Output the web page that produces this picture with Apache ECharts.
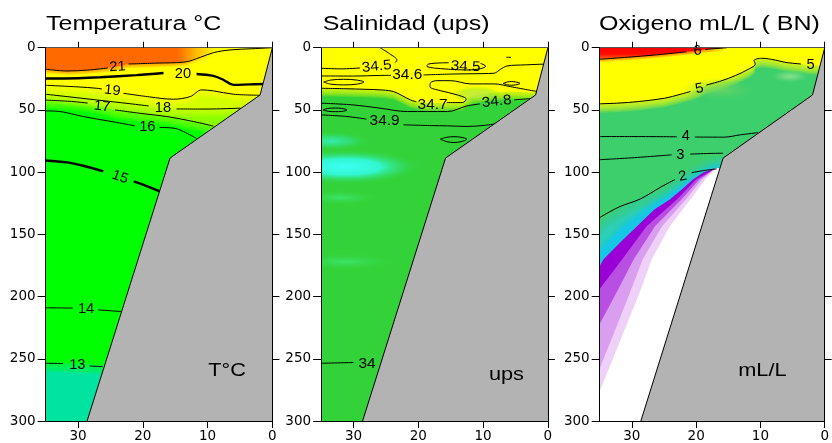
<!DOCTYPE html>
<html>
<head>
<meta charset="utf-8">
<script src="https://cdn.jsdelivr.net/npm/echarts@6/dist/echarts.min.js"></script>
<style>
  html, body { margin: 0; padding: 0; background: #fff; }
  #main { width: 832px; height: 443px; }
</style>
</head>
<body>
<div id="main"></div>
<script>
// ---- axes ----
const xTicks = [0, 10, 20, 30];
const yRightTicks = [50, 100, 150, 200, 250];
const titleText = ['Temperatura °C', 'Salinidad (ups)', 'Oxigeno mL/L ( BN)'];
const unitText = ['T°C', 'ups', 'mL/L'];
const unitPos = [[7, 259.8], [6.4, 263], [9.7, 259.8]];

// ---- shelf (distance km, depth m) ----
const bottomEdge = [[0, 0], [1.9, 38], [15.8, 88.7], [28.6, 300]];

// ---- temperature contours (segments broken at labels) ----
const t21 = [[[35, 17.3], [31.7, 18.7], [28.5, 18], [25.4, 16.3]], [[22.2, 13.1], [18, 12.4], [13.5, 11.5], [11.1, 7.7], [9.1, 4], [6.5, 1.8], [3, 0.8], [0, 0]]];
const t20 = [[[35, 24.8], [30, 24.5], [26.6, 23.8], [21, 22], [16.8, 20.3]], [[11.7, 21.1], [9.1, 22.7], [7.5, 26], [6, 29.9], [3.5, 29.5], [1.4, 29.2]]];
const t19 = [[[35, 30.2], [30, 31.5], [27.1, 32.6], [26.3, 33.2]], [[23, 36.6], [19, 39.5], [15.3, 41.4], [12.7, 39.3], [10.9, 33.9], [9.1, 34.7], [6, 37.4], [2, 38.2]]];
const t18 = [[[35, 37.4], [31.7, 39.3], [27.1, 42], [22, 45], [19.1, 46.8]], [[14.8, 49.2], [11, 49.3], [8.6, 49.2], [4.9, 48.6]]];
const t17 = [[[35, 42.1], [31, 43.2], [28.5, 44.5]], [[24.3, 50], [20, 53], [16.3, 55.3], [12.2, 59.3], [9.1, 63]]];
const t16 = [[[35, 50.8], [32.8, 51.3], [29.2, 55.3], [24, 60.1], [21.2, 62.8]], [[17.4, 64.1], [15.3, 64.6], [13.7, 67.4], [11.7, 73]]];
const t15 = [[[35, 90.6], [31.7, 92.2], [29.2, 94.9], [26.1, 99.4]], [[21.4, 107.4], [19.5, 111], [17.4, 115.5]]];
const t14 = [[[35, 209], [30.8, 209.3]], [[26.9, 210.7], [23.4, 212]]];
const t13 = [[[35, 253.6], [32.3, 253.8]], [[28.2, 255.8], [26.2, 256.3]]];
const tLabelPos = [[23.9, 15.5], [13.8, 21.4], [24.7, 34.5], [16.9, 48.6], [26.3, 47.3], [19.3, 63.6], [23.5, 104], [28.75, 210.3], [30.1, 255.3]];
const tLabelText = ['21', '20', '19', '18', '17', '16', '15', '14', '13'];
// temperature colour regions
const tOrange = [[35, 0], [35, 17.3], [31.7, 18.7], [28.5, 18], [25.4, 16.3], [23.9, 15], [22.2, 13.1], [18, 12.4], [13.5, 11.5], [11.1, 7.7], [9.1, 4], [6.5, 1.8], [3, 0.8], [0, 0]];
const tYellow = [[35, 0], [35, 30.2], [30, 31.5], [27.1, 32.6], [24.7, 34.6], [23, 36.6], [19, 39.5], [15.3, 41.4], [12.7, 39.3], [10.9, 33.9], [9.1, 34.7], [6, 37.4], [2, 38.2], [0, 38.2], [0, 0]];
const tLime = [[35, 0], [35, 37.4], [31.7, 39.3], [27.1, 42], [22, 45], [16.9, 48.4], [14.8, 49.2], [11, 49.3], [8.6, 49.2], [4.9, 48.6], [0, 48.6], [0, 0]];
const tChartreuse = [[35, 0], [35, 42.1], [31, 43.2], [28.5, 44.5], [26.3, 47.3], [24.3, 50], [20, 53], [16.3, 55.3], [12.2, 59.3], [9.1, 63], [0, 63], [0, 0]];
const tTeal = [[35, 260], [30, 261], [26, 262], [0, 262], [0, 300], [35, 300]];

// ---- salinity ----
const s345a = [[[35, 16.5], [32, 17], [29, 16.3]], [[23.6, 12], [23.3, 10], [24.4, 5], [25.9, 0]]];
const s345b = [[[17.5, 16.4], [18.7, 14.8], [18.4, 13.1], [16.4, 12.2], [15.3, 12.1]], [[10.4, 12.6], [9.6, 14.8], [10.4, 16.9], [12.5, 17.9], [15, 17.4], [17.5, 16.4]]];
const s346 = [[[35, 22.7], [30, 22.8], [26, 22.3], [24.2, 22.2]], [[19.2, 21.9], [15, 21.2], [10, 20.8], [8.3, 20.5], [7.3, 17.3], [6.3, 14.7], [3.5, 13.8], [0.6, 13.2]]];
const s347 = [[[35, 32.6], [31, 33], [28.4, 33.4], [25.5, 34], [23.8, 35.3], [22.5, 38.5], [21.2, 42], [20.3, 43.5]], [[15.6, 44.1], [13.2, 44.1], [12.6, 41.4], [14, 37.9], [16.6, 34.5], [18.2, 31.3], [18.1, 28.1], [17.1, 26.5], [15, 26.5], [11.9, 29.1], [8.3, 29.1], [5.8, 31.3], [1.6, 35.3]]];
const s348 = [[[35, 44.6], [30, 46], [25.9, 48.6], [21.7, 51.3], [15.5, 51.3], [12.5, 46.8], [10.5, 45.2]], [[5.2, 41.9], [3.2, 41.1], [2.6, 40.9]]];
const s349 = [[[35, 54], [31, 55.3], [28, 57.4]], [[22.3, 62], [18, 62.6], [15.5, 62.8], [12.5, 63.3], [10, 62.5], [8.2, 61.3]]];
const s340 = [[[35, 253.6], [30, 253]]];
const sSmall = [
  [[6.4, 7.7], [5.7, 7.7]],
  [[34.6, 27.6], [33.5, 26], [31.5, 25.4], [29.5, 26], [28.4, 27.6], [29.5, 29.3], [31.5, 29.9], [33.5, 29.3], [34.6, 27.6]],
  [[6.9, 28.7], [6.2, 27.5], [5.6, 27.2], [5, 27.5], [4.3, 28.7], [5, 29.9], [5.6, 30.2], [6.2, 29.9], [6.9, 28.7]],
  [[34.7, 50], [33.8, 48.7], [32.8, 48.5], [31.8, 48.8], [31, 50], [31.8, 51.2], [32.8, 51.4], [33.8, 51.2], [34.7, 50]],
  [[16.6, 73.5], [15.6, 72], [14.5, 71.5], [13.4, 72], [12.5, 73.5], [13.4, 75.5], [14.5, 76.2], [15.6, 75.5], [16.6, 73.5]]
];
const sLabelPos = [[26.4, 15.2], [21.7, 21.9], [12.7, 15.2], [17.8, 46], [7.9, 43.3], [25.2, 59.3], [27.9, 254.5]];
const sLabelText = ['34.5', '34.6', '34.5', '34.7', '34.8', '34.9', '34'];
const sYellow = [[35, 0], [35, 32.6], [31, 33], [28.4, 33.4], [25.5, 34], [23.8, 35.3], [22.5, 38.5], [21.2, 42], [19, 44.3], [15.6, 44.4], [13.2, 44.1], [12.6, 41.4], [11.5, 38.5], [9, 36.5], [6, 35.5], [3, 36], [0, 36], [0, 0]];
const sBlobPos = [[31.3, 95.7], [33.6, 75], [32, 120.5], [31.3, 172], [11, 37.5]];

// ---- oxygen ----
const o6 = [[[35, 9.3], [30.5, 7.6], [26.5, 5.9], [21.5, 3.3]], [[18.6, 1.4], [15.2, 0]]];
const o5 = [[[35, 45.1], [32, 44.5], [29, 43.3], [24.9, 40.6], [22.5, 37.5], [20.9, 35.2]], [[18.4, 30], [16, 26.5], [13.9, 22.4], [11.8, 17.1], [10.8, 13.1], [11, 10.4], [9.8, 8.5], [7.7, 9.9], [6.2, 11.7], [3.7, 13.1]]];
const o4 = [[[35, 71.4], [30, 71.4], [23, 71.6]], [[20.2, 71.8], [15.7, 71.9], [13.1, 70], [10.4, 68.3]]];
const o3 = [[[35, 90], [30, 88.5], [23.8, 86.1]], [[20.9, 85.5], [18, 85], [15.8, 84.8]]];
const o2 = [[[35, 136.5], [32, 128], [28.7, 121.6], [25.5, 112], [23.3, 106]], [[20.7, 100.4], [18.5, 98.5], [16.8, 97.4]]];
const oLabelPos = [[19.8, 2.6], [2.2, 14.4], [19.5, 32.9], [21.6, 71.4], [22.45, 86], [22.1, 103.4]];
const oLabelText = ['6', '5', '5', '4', '3', '2'];
const oRed = [[35, 0], [35, 9.3], [30.5, 7.6], [26.5, 5.9], [21.5, 3.3], [19.8, 2.5], [18.6, 1.4], [15.2, 0]];
const oYellow = [[35, 0], [35, 45.1], [32, 44.5], [29, 43.3], [24.9, 40.6], [22.5, 37.5], [21, 35.5], [19.5, 32.9], [18.4, 30], [16, 26.5], [13.9, 22.4], [11.8, 17.1], [10.8, 13.1], [11, 10.4], [9.8, 8.5], [7.7, 9.9], [6.2, 11.7], [3.7, 13.1], [2.2, 14.4], [0, 14.4], [0, 0]];
const oBlobPos = [[5.4, 23], [16, 34]];
// edges of the low-oxygen bands, from the left side up to the shelf break
const oCyanTop = [[35, 150], [33.8, 143.5], [29.5, 131], [25.1, 122], [22, 110], [19.5, 102], [16.9, 96.7]];
const oCyan = [[35, 163], [31.5, 145], [27, 128], [23, 115], [20, 104], [16.9, 96.7]];
const oViolet1 = [[35, 175.6], [34.4, 170], [31.5, 155], [29.2, 143.5], [26.5, 130], [24.1, 122], [22, 113], [20.5, 106], [18.8, 100], [16.9, 96.7]];
const oViolet2 = [[35, 194], [31.5, 170], [27.7, 143.5], [23, 122], [20, 106], [16.9, 96.7]];
const oViolet3 = [[35, 222], [32.2, 195], [29.7, 170], [26.4, 143.5], [22.3, 122], [19.5, 106], [16.9, 96.7]];
const oViolet4 = [[35, 258], [30.3, 197], [28.3, 170], [25.3, 143.5], [21.6, 122], [19.1, 106], [16.9, 96.7]];
const oWhite = [[35, 276], [28.8, 197], [26.9, 170], [24.1, 143.5], [20.9, 122], [18.6, 106], [16.9, 96.7]];

// ---- layout ----
const gridLeft = [45.6, 321.1, 599.7];
const gridBg = ['#00ff00', '#33d238', '#3ccf6c'];
const FONT = '"Liberation Sans", Arial, sans-serif';

function clipOf(params) {
  const c = params.coordSys;
  return { type: 'rect', shape: { x: c.x, y: c.y, width: c.width, height: c.height } };
}

// filled region; feather = [pixel spread (+down / -up), number of layers] gives a soft edge
function area(g, pts, fill, feather) {
  return {
    type: 'custom', xAxisIndex: 2 * g, yAxisIndex: 2 * g, z: 1, silent: true, animation: false, clip: true,
    data: [pts[0]],
    renderItem: function (params, api) {
      const pix = pts.map(p => api.coord(p));
      const kids = [];
      if (feather) {
        const n = feather[1];
        for (let j = n; j >= 1; j--) {
          const off = feather[0] * j / n;
          kids.push({ type: 'polygon', shape: { points: pix.map(p => [p[0], p[1] + off]) }, style: { fill: fill, opacity: 0.2 } });
        }
      }
      kids.push({ type: 'polygon', shape: { points: pix }, style: { fill: fill } });
      return { type: 'group', clipPath: clipOf(params), children: kids };
    }
  };
}

// region under a band edge, closed down to the bottom
function below(g, edge, fill, feather) {
  const last = edge[edge.length - 1];
  return area(g, edge.concat([[0, last[1]], [0, 300], [35, 300]]), fill, feather);
}

function blobs(g, pos, sizes, colors) {
  return {
    type: 'custom', xAxisIndex: 2 * g, yAxisIndex: 2 * g, z: 1, silent: true, animation: false, clip: true,
    data: pos,
    renderItem: function (params, api) {
      const i = params.dataIndex;
      const p = api.coord([api.value(0), api.value(1)]);
      const s = sizes[i], c = colors[i];
      return {
        type: 'group', clipPath: clipOf(params),
        children: [{
          type: 'circle', x: p[0], y: p[1], scaleX: s[0] / s[1],
          shape: { cx: 0, cy: 0, r: s[1] },
          style: { fill: { type: 'radial', x: 0.5, y: 0.5, r: 0.5, colorStops: [
            { offset: 0, color: c[0] }, { offset: 0.45, color: c[1] }, { offset: 1, color: c[2] }] } }
        }]
      };
    }
  };
}

function contour(g, segs, width) {
  return segs.map(seg => ({
    type: 'line', xAxisIndex: 2 * g, yAxisIndex: 2 * g, z: 2, data: seg, smooth: 0.35,
    symbol: 'none', silent: true, animation: false,
    lineStyle: { color: '#000', width: width || 1 }
  }));
}

function texts(g, pos, txt, rots, size, sx) {
  return {
    type: 'custom', xAxisIndex: 2 * g, yAxisIndex: 2 * g, z: 5, silent: true, animation: false,
    data: pos,
    renderItem: function (params, api) {
      const i = params.dataIndex;
      const p = api.coord([api.value(0), api.value(1)]);
      return {
        type: 'text', x: p[0], y: p[1], scaleX: sx,
        rotation: (rots ? rots[i] : 0) * Math.PI / 180,
        style: { text: txt[i], font: size + 'px ' + FONT, fill: '#000', align: 'center', verticalAlign: 'middle' }
      };
    }
  };
}

function shelf(g) {
  return [
    Object.assign(area(g, bottomEdge.concat([[0, 300]]), '#b3b3b3'), { z: 3 }),
    { type: 'line', xAxisIndex: 2 * g, yAxisIndex: 2 * g, z: 4, data: bottomEdge, symbol: 'none',
      silent: true, animation: false, lineStyle: { color: '#000', width: 1 } }
  ];
}

const grids = [], xAxes = [], yAxes = [];
for (let i = 0; i < 3; i++) {
  grids.push({ left: gridLeft[i], top: 47.7, width: 226.8, height: 374.3, show: true, backgroundColor: gridBg[i], borderWidth: 0 });
  xAxes.push({
    gridIndex: i, type: 'value', min: 0, max: 35, inverse: true, position: 'bottom', z: 10,
    axisLine: { onZero: false, lineStyle: { color: '#000', width: 1 } },
    axisTick: { show: true, customValues: xTicks, length: 7, lineStyle: { color: '#000' } },
    axisLabel: { customValues: xTicks, color: '#000', fontFamily: 'DejaVu Sans', fontSize: 13.5, margin: 8 },
    splitLine: { show: false }
  });
  xAxes.push({
    gridIndex: i, type: 'value', min: 0, max: 35, inverse: true, position: 'top', z: 10,
    axisLine: { onZero: false, lineStyle: { color: '#555', width: 1 } },
    axisTick: { show: true, customValues: xTicks, length: 6, lineStyle: { color: '#000' } },
    axisLabel: { show: false }, splitLine: { show: false }
  });
  yAxes.push({
    gridIndex: i, type: 'value', min: 0, max: 300, interval: 50, inverse: true, position: 'left', z: 10,
    axisLine: { show: true, onZero: false, lineStyle: { color: '#000' } },
    axisTick: { show: true, length: 8, lineStyle: { color: '#000' } },
    axisLabel: { color: '#000', fontFamily: 'DejaVu Sans', fontSize: 13.5, margin: 10 },
    splitLine: { show: false }
  });
  yAxes.push({
    gridIndex: i, type: 'value', min: 0, max: 300, interval: 50, inverse: true, position: 'right', z: 10,
    axisLine: { show: true, onZero: false, lineStyle: { color: '#000' } },
    axisTick: { show: true, customValues: yRightTicks, length: 7, lineStyle: { color: '#000' } },
    axisLabel: { show: false }, splitLine: { show: false }
  });
}

const series = [];
// temperature
series.push(
  area(0, tChartreuse, '#8cff00', [9, 6]),
  area(0, tLime, '#d4ff00', [8, 6]),
  area(0, tYellow, '#ffff00', [7, 6]),
  area(0, tOrange, { type: 'linear', x: 0, y: 0, x2: 1, y2: 0, colorStops: [
    { offset: 0, color: '#ff6900' }, { offset: 0.58, color: '#ff6900' },
    { offset: 0.67, color: '#ffc000' }, { offset: 0.76, color: '#ffff00' }, { offset: 1, color: '#ffff00' }] }, [4, 4]),
  area(0, tTeal, '#00e4a0', [-10, 6])
);
series.push(...shelf(0));
[t21, t19, t18, t17, t16, t14, t13].forEach(c => series.push(...contour(0, c, 1)));
[t20, t15].forEach(c => series.push(...contour(0, c, 2.4)));
series.push(texts(0, tLabelPos, tLabelText, [3, 0, -6, 0, -6, 0, -20, 0, 0], 14, 1.05));

// salinity
series.push(
  area(1, sYellow, '#ffff00', [8, 6]),
  blobs(1, sBlobPos,
    [[78, 18], [45, 10], [45, 8], [55, 9], [25, 8]],
    [['#3cfff6', 'rgba(50,248,215,0.95)', 'rgba(51,210,56,0)'],
     ['rgba(50,240,190,0.9)', 'rgba(50,230,150,0.6)', 'rgba(51,210,56,0)'],
     ['rgba(60,232,120,0.8)', 'rgba(60,225,100,0.4)', 'rgba(51,210,56,0)'],
     ['rgba(60,232,120,0.8)', 'rgba(60,225,100,0.4)', 'rgba(51,210,56,0)'],
     ['rgba(190,235,70,0.9)', 'rgba(170,230,70,0.6)', 'rgba(51,210,56,0)']])
);
series.push(...shelf(1));
[s345a, s345b, s346, s347, s348, s349, s340, sSmall].forEach(c => series.push(...contour(1, c, 1)));
series.push(texts(1, sLabelPos, sLabelText, [6, 0, -3, 0, 6, 0, 0], 14, 1.1));

// oxygen
series.push(
  area(2, oYellow, '#ffff00', [9, 6]),
  blobs(2, oBlobPos, [[22, 7], [40, 12]],
    [['rgba(140,225,140,0.95)', 'rgba(120,220,130,0.6)', 'rgba(60,207,108,0)'],
     ['rgba(120,215,100,0.7)', 'rgba(100,212,100,0.4)', 'rgba(60,207,108,0)']]),
  area(2, oRed, { type: 'linear', x: 0, y: 0, x2: 0, y2: 1, colorStops: [
    { offset: 0, color: '#ff0000' }, { offset: 0.55, color: '#ff0a00' }, { offset: 1, color: '#ff6a10' }] }, [3, 3]),
  below(2, oCyanTop, '#2ccfb4', [-12, 6]),
  below(2, oCyan, '#14c8e6', [-6, 4]),
  below(2, oViolet1, '#9a00d6'),
  below(2, oViolet2, '#b84ee2'),
  below(2, oViolet3, '#d99ef0'),
  below(2, oViolet4, '#eed0f9'),
  below(2, oWhite, '#ffffff')
);
series.push(...shelf(2));
[o6, o5, o4, o3, o2].forEach(c => series.push(...contour(2, c, 1)));
series.push(texts(2, oLabelPos, oLabelText, [8, 0, 12, 0, 0, 12], 14, 1.05));

// unit captions in the shelf area
for (let i = 0; i < 3; i++) {
  series.push(texts(i, [unitPos[i]], [unitText[i]], null, 18.6, 1.17));
}

const option = {
  animation: false,
  backgroundColor: '#fff',
  grid: grids,
  xAxis: xAxes,
  yAxis: yAxes,
  graphic: titleText.map((t, i) => ({
    type: 'text', x: [46, 322.7, 599][i], y: 24.5, scaleX: 1.25,
    style: { text: t, font: '20px ' + FONT, fill: '#000', verticalAlign: 'middle' }
  })),
  series: series
};

const chart = echarts.init(document.getElementById('main'));
chart.setOption(option);
</script>
</body>
</html>
